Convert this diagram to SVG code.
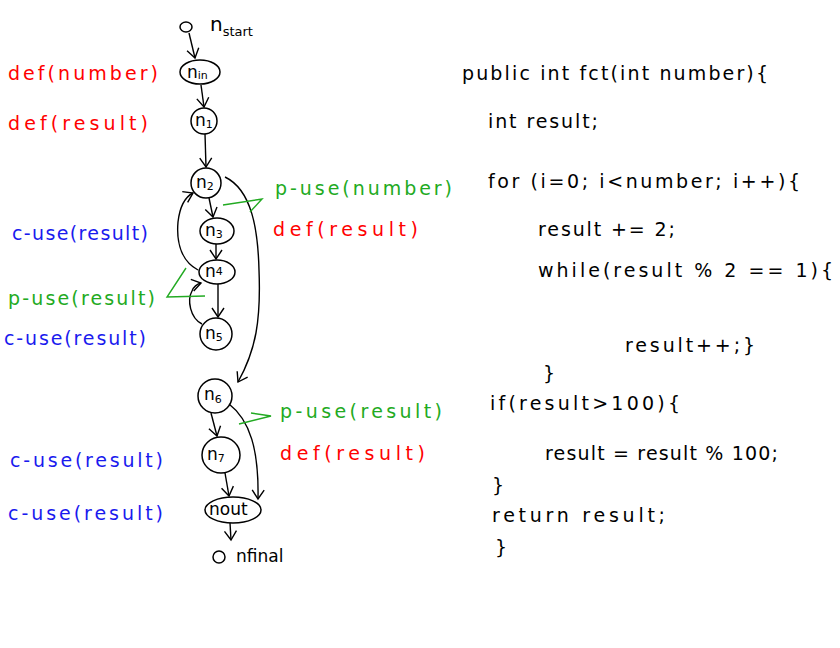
<svg xmlns="http://www.w3.org/2000/svg" width="840" height="648" viewBox="0 0 840 648">
<style>
.nd{fill:none;stroke:#000;stroke-width:1.5}
.e{fill:none;stroke:#000;stroke-width:1.4;marker-end:url(#ah)}
.g{fill:none;stroke:#22aa22;stroke-width:1.4}
.lb{font-family:"DejaVu Sans","Liberation Sans",sans-serif;font-size:17px;fill:#000}
.sb{font-size:11px}
.t{font-family:"DejaVu Sans","Liberation Sans",sans-serif;font-size:19px}
.red{fill:#ff0000}.blue{fill:#1a1aee}.green{fill:#22aa22}.blk{fill:#000}
</style>
<defs>
<marker id="ah" markerWidth="14" markerHeight="14" refX="10" refY="7" orient="auto" markerUnits="userSpaceOnUse">
<path d="M1,1 L10,7 L1,13" fill="none" stroke="#000" stroke-width="1.4"/>
</marker>
</defs>
<rect width="840" height="648" fill="#fff"/>

<g id="n_start"><ellipse class="nd" cx="186" cy="27" rx="6" ry="5"/><text class="lb" x="210" y="31" style="font-size:20px">n<tspan style="font-size:13px" dy="5">start</tspan></text></g>
<g id="n_in"><ellipse class="nd" cx="200" cy="72" rx="20" ry="12"/><text class="lb" x="187" y="78">n<tspan class="sb" dy="1">in</tspan></text></g>
<g id="n1"><circle class="nd" cx="204" cy="121" r="13"/><text class="lb" x="195" y="126">n<tspan class="sb" dy="2">1</tspan></text></g>
<g id="n2"><circle class="nd" cx="206" cy="183" r="15"/><text class="lb" x="196" y="188">n<tspan class="sb" dy="2">2</tspan></text></g>
<g id="n3"><ellipse class="nd" cx="217" cy="231" rx="17" ry="13"/><text class="lb" x="205" y="236">n<tspan class="sb" dy="2">3</tspan></text></g>
<g id="n4"><ellipse class="nd" cx="217" cy="272" rx="18" ry="12"/><text class="lb" x="205" y="277">n<tspan class="sb" dy="-2">4</tspan></text></g>
<g id="n5"><circle class="nd" cx="216" cy="334" r="16"/><text class="lb" x="205" y="339">n<tspan class="sb" dy="2">5</tspan></text></g>
<g id="n6"><circle class="nd" cx="215" cy="396" r="17"/><text class="lb" x="204" y="400">n<tspan class="sb" dy="3">6</tspan></text></g>
<g id="n7"><ellipse class="nd" cx="221" cy="455" rx="19" ry="18"/><text class="lb" x="207" y="460">n<tspan class="sb" dy="2">7</tspan></text></g>
<g id="n_out"><ellipse class="nd" cx="233" cy="510" rx="28" ry="13"/><text class="lb" x="209" y="515">nout</text></g>
<g id="n_final"><ellipse class="nd" cx="219" cy="557" rx="6" ry="6"/><text class="lb" x="236" y="562">nfinal</text></g>

<g id="edges">
<path class="e" d="M189,33 L195,58"/>
<path class="e" d="M201,85 L204,107"/>
<path class="e" d="M205,134 L206,167"/>
<path class="e" d="M209,198 L213,217"/>
<path class="e" d="M216,244 L216,259"/>
<path class="e" d="M218,284 L218,317"/>
<path class="e" d="M198,270 C183,262 176,245 178,222 C180,205 185,197 193,193"/>
<path class="e" d="M202,324 C190,318 187,300 192,291 C194,286 197,284 201,283"/>
<path class="e" d="M225,177 C252,190 258,230 259,270 C261,320 256,350 238,382"/>
<path class="e" d="M211,413 L217,436"/>
<path class="e" d="M229,404 C250,420 259,450 258,499"/>
<path class="e" d="M225,473 L229,496"/>
<path class="e" d="M230,523 L231,540"/>
<path class="g" d="M223,205 L262,199 L250,212"/>
<path class="g" d="M186,268 L167,297 L205,296"/>
<path class="g" d="M239,424 L271,416 L251,413"/>
</g>

<g id="labels">
<text class="t red" x="8" y="80" textLength="150">def(number)</text>
<text class="t red" x="8" y="130" textLength="140">def(result)</text>
<text class="t blue" x="12" y="240" textLength="136">c-use(result)</text>
<text class="t green" x="8" y="305" textLength="147">p-use(result)</text>
<text class="t blue" x="4" y="345" textLength="142">c-use(result)</text>
<text class="t blue" x="10" y="467" textLength="153">c-use(result)</text>
<text class="t blue" x="8" y="520" textLength="155">c-use(result)</text>
<text class="t green" x="275" y="195" textLength="177">p-use(number)</text>
<text class="t red" x="273" y="236" textLength="145">def(result)</text>
<text class="t green" x="280" y="418" textLength="162">p-use(result)</text>
<text class="t red" x="280" y="460" textLength="145">def(result)</text>
</g>

<g id="code">
<text class="t blk" x="462" y="80" textLength="306">public int fct(int number){</text>
<text class="t blk" x="488" y="128" textLength="110">int result;</text>
<text class="t blk" x="488" y="188" textLength="312">for (i=0; i&lt;number; i++){</text>
<text class="t blk" x="538" y="236" textLength="137">result += 2;</text>
<text class="t blk" x="538" y="277" textLength="295">while(result % 2 == 1){</text>
<text class="t blk" x="625" y="352" textLength="130">result++;}</text>
<text class="t blk" x="543" y="380">}</text>
<text class="t blk" x="490" y="410" textLength="190">if(result&gt;100){</text>
<text class="t blk" x="545" y="460" textLength="233">result = result % 100;</text>
<text class="t blk" x="492" y="492">}</text>
<text class="t blk" x="492" y="522" textLength="173">return result;</text>
<text class="t blk" x="495" y="554">}</text>
</g>
</svg>
